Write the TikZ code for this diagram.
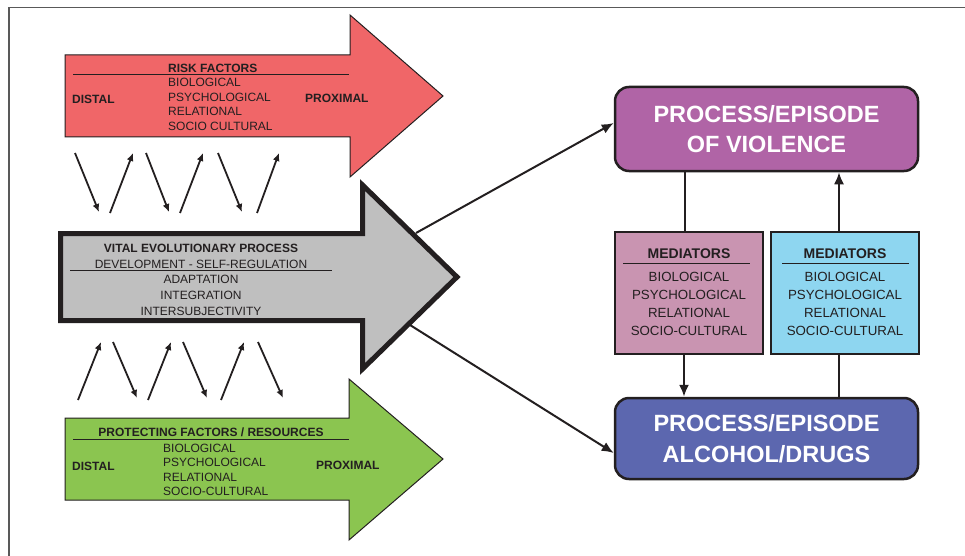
\documentclass[tikz,border=0pt]{standalone}
\usepackage{fontspec}
\setmainfont{Liberation Sans}
\usetikzlibrary{arrows.meta}
\definecolor{riskred}{RGB}{240,102,104}
\definecolor{vitalgray}{RGB}{191,191,191}
\definecolor{protgreen}{RGB}{139,197,80}
\definecolor{violpurple}{RGB}{176,100,166}
\definecolor{medpink}{RGB}{201,148,177}
\definecolor{medblue}{RGB}{142,214,240}
\definecolor{drugblue}{RGB}{92,103,175}
\definecolor{ink}{RGB}{35,31,32}
\begin{document}
\begin{tikzpicture}[x=1pt,y=-1pt,
  small/.style={font=\fontsize{12}{14.5}\selectfont, text=ink, inner sep=0pt},
  smallb/.style={font=\fontsize{12}{14.5}\selectfont\bfseries, text=ink, inner sep=0pt},
  medtxt/.style={font=\fontsize{13.3}{18}\selectfont, text=ink, inner sep=0pt, align=center},
  medtitle/.style={font=\fontsize{14}{16}\selectfont\bfseries, text=ink, inner sep=0pt},
  bigbox/.style={draw=ink, line width=2.5pt, rounded corners=14pt, minimum width=303pt,
     text=white, font=\fontsize{23.5}{30.5}\selectfont\bfseries, align=center},
  medbox/.style={draw=ink, line width=2.5pt, minimum width=148pt, minimum height=122pt},
  thinarrow/.style={draw=ink, line width=1.8pt, -{Latex[length=8pt,width=7pt]}},
  conn/.style={draw=ink, line width=2pt, -{Latex[length=12pt,width=10pt]}},
  plain/.style={draw=ink, line width=2pt},
  rule/.style={draw=ink, line width=1pt}]
\useasboundingbox (0,0) rectangle (965,556);
% frame
\draw[line width=1.5pt, draw=black!65] (9,556) -- (9,7.5) -- (965,7.5);

% red arrow (risk factors)
\draw[draw=ink, line width=1pt, fill=riskred]
  (65,55) -- (350,55) -- (350,15) -- (443,96) -- (350,177) -- (350,137) -- (65,137) -- cycle;
\node[smallb, anchor=west] (risk) at (168,68) {RISK FACTORS};
\draw[rule] (73,75) -- (349,75);
\node[small, anchor=north west, align=left] (risklist) at (168,78)
  {BIOLOGICAL\\PSYCHOLOGICAL\\RELATIONAL\\SOCIO CULTURAL};
\node[smallb, anchor=west] (rdistal) at (72,99) {DISTAL};
\node[smallb, anchor=west] (rprox) at (305,98) {PROXIMAL};

% grey arrow (vital evolutionary process)
\draw[draw=ink, line width=5pt, fill=vitalgray, miter limit=10]
  (60.5,233.5) -- (362.5,233.5) -- (362.5,185) -- (457,277) -- (362.5,369) -- (362.5,320.5) -- (60.5,320.5) -- cycle;
\coordinate (gtop) at (416,233);
\coordinate (gbot) at (410,325);
\node[smallb] (vital) at (201,248) {VITAL EVOLUTIONARY PROCESS};
\node[small] (dev) at (201,264) {DEVELOPMENT - SELF-REGULATION};
\draw[rule] (70,270) -- (332,270);
\node[small, anchor=north, align=center] (vlist) at (201,275)
  {ADAPTATION\\[1.5pt]INTEGRATION\\[1.5pt]INTERSUBJECTIVITY};

% green arrow (protecting factors)
\draw[draw=ink, line width=1pt, fill=protgreen]
  (65,418) -- (349,418) -- (349,379) -- (443,459) -- (349,540) -- (349,500) -- (65,500) -- cycle;
\node[smallb] (prot) at (211,432) {PROTECTING FACTORS / RESOURCES};
\draw[rule] (73,439) -- (349,439);
\node[small, anchor=north west, align=left] (protlist) at (163,443.5)
  {BIOLOGICAL\\PSYCHOLOGICAL\\RELATIONAL\\SOCIO-CULTURAL};
\node[smallb, anchor=west] (gdistal) at (72,466) {DISTAL};
\node[smallb, anchor=west] (gprox) at (316,465) {PROXIMAL};

% small arrows between red and grey
\coordinate (u1a) at (75,153);  \coordinate (u1b) at (99,212);
\coordinate (u2a) at (110,213); \coordinate (u2b) at (133,153);
\coordinate (u3a) at (146,153); \coordinate (u3b) at (169,212);
\coordinate (u4a) at (180,213); \coordinate (u4b) at (203,153);
\coordinate (u5a) at (218,153); \coordinate (u5b) at (242,212);
\coordinate (u6a) at (257,213); \coordinate (u6b) at (279,153);
\foreach \i in {1,...,6} {\draw[thinarrow] (u\i a) -- (u\i b);}
% small arrows between grey and green
\coordinate (l1a) at (78,400);  \coordinate (l1b) at (101,342);
\coordinate (l2a) at (113,342); \coordinate (l2b) at (137,398);
\coordinate (l3a) at (148,400); \coordinate (l3b) at (171,342);
\coordinate (l4a) at (183,342); \coordinate (l4b) at (207,398);
\coordinate (l5a) at (221,400); \coordinate (l5b) at (244,342);
\coordinate (l6a) at (258,342); \coordinate (l6b) at (283,398);
\foreach \i in {1,...,6} {\draw[thinarrow] (l\i a) -- (l\i b);}

% right side boxes
\node[bigbox, fill=violpurple, minimum height=84pt] (viol) at (766.5,129)
  {PROCESS/EPISODE\\OF VIOLENCE};
\node[bigbox, fill=drugblue, minimum height=81pt] (drug) at (766.5,438.5)
  {PROCESS/EPISODE\\ALCOHOL/DRUGS};
\node[medbox, fill=medpink] (medA) at (689,293) {};
\node[medbox, fill=medblue] (medB) at (845,293) {};
\node[medtitle] (medAt) at (689,254) {MEDIATORS};
\draw[rule] (623,263) -- (750,263);
\node[medtxt] (medAl) at (689,303.5) {BIOLOGICAL\\PSYCHOLOGICAL\\RELATIONAL\\SOCIO-CULTURAL};
\node[medtitle] (medBt) at (845,254) {MEDIATORS};
\draw[rule] (782,263) -- (909,263);
\node[medtxt] (medBl) at (845,303.5) {BIOLOGICAL\\PSYCHOLOGICAL\\RELATIONAL\\SOCIO-CULTURAL};

% connectors
\draw[conn] (gtop) -- ([yshift=6pt]viol.west);
\draw[conn] (gbot) -- ([yshift=-14.5pt]drug.west);
\draw[plain] ([xshift=-4pt]medA.north |- viol.south) -- ([xshift=-4pt]medA.north);
\draw[conn] ([xshift=-5pt]medA.south) -- ([xshift=-5pt]medA.south |- drug.north);
\draw[conn] ([xshift=-6pt]medB.north) -- ([xshift=-6pt]medB.north |- viol.south);
\draw[plain] ([xshift=-6pt]medB.south) -- ([xshift=-6pt]medB.south |- drug.north);
\end{tikzpicture}
\end{document}
